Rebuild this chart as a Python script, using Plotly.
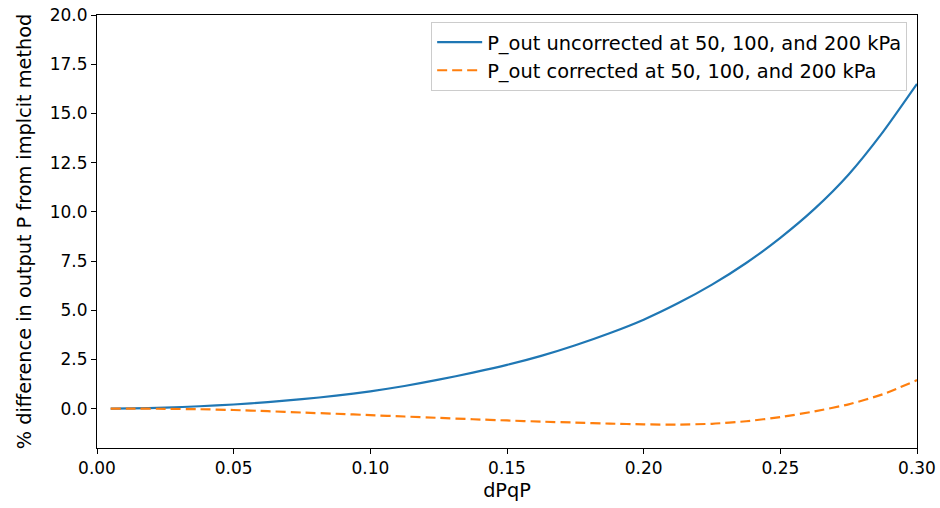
import plotly.graph_objects as go

# Data
dPqP = [0.005, 0.0125, 0.025, 0.0375, 0.05, 0.0625, 0.075, 0.0875, 0.10,
        0.1125, 0.125, 0.1375, 0.15, 0.1625, 0.175, 0.1875, 0.20, 0.2125,
        0.225, 0.2375, 0.25, 0.2625, 0.275, 0.2875, 0.30]
uncorrected = [0.0, 0.01, 0.05, 0.12, 0.21, 0.33, 0.48, 0.66, 0.88,
               1.15, 1.47, 1.83, 2.22, 2.68, 3.22, 3.83, 4.52, 5.35,
               6.3, 7.4, 8.68, 10.15, 11.9, 14.05, 16.5]
corrected = [0.0, 0.0, -0.01, -0.03, -0.07, -0.13, -0.2, -0.26, -0.33,
             -0.4, -0.47, -0.54, -0.6, -0.66, -0.71, -0.76, -0.8, -0.81,
             -0.77, -0.64, -0.43, -0.14, 0.22, 0.73, 1.45]

name_unc = "P_out uncorrected at 50, 100, and 200 kPa"
name_cor = "P_out corrected at 50, 100, and 200 kPa"
x_title = "dPqP"
y_title = "% difference in output P from implcit method"

FONT = "DejaVu Sans"
FS_TICK = 17
FS_TITLE = 19.3
FS_LEG = 19.4

fig = go.Figure()
fig.add_trace(go.Scatter(
    x=dPqP, y=uncorrected, mode="lines", name=name_unc,
    line=dict(color="#1f77b4", width=2.2, shape="spline", smoothing=0.6),
))
fig.add_trace(go.Scatter(
    x=dPqP, y=corrected, mode="lines", name=name_cor,
    line=dict(color="#ff7f0e", width=2.2, dash="10px,5px", shape="spline", smoothing=0.6),
))

axis_common = dict(
    showline=True, linecolor="black", linewidth=1, mirror=True,
    ticks="outside", ticklen=5, tickwidth=1, tickcolor="black",
    showgrid=False, zeroline=False, automargin=False,
    tickfont=dict(family=FONT, size=FS_TICK, color="black"),
)

fig.update_layout(
    width=940, height=508,
    margin=dict(l=97, r=23, t=15, b=60, autoexpand=False),
    paper_bgcolor="white", plot_bgcolor="white",
    font=dict(family=FONT, size=FS_TICK, color="black"),
    xaxis=dict(range=[0, 0.3], tick0=0, dtick=0.05, tickformat=".2f",
               title=dict(text=x_title, font=dict(family=FONT, size=FS_TITLE), standoff=6),
               **axis_common),
    yaxis=dict(range=[-2, 20], tick0=0, dtick=2.5, tickformat=".1f",
               title=dict(text=y_title, font=dict(family=FONT, size=FS_TITLE), standoff=12),
               **axis_common),
    legend=dict(
        x=0.988, y=0.984, xanchor="right", yanchor="top",
        bgcolor="rgba(255,255,255,0.8)", bordercolor="#cccccc", borderwidth=1,
        font=dict(family=FONT, size=FS_LEG, color="black"),
        tracegroupgap=0, itemwidth=45,
    ),
    showlegend=True,
)

fig.write_html("out.html")
